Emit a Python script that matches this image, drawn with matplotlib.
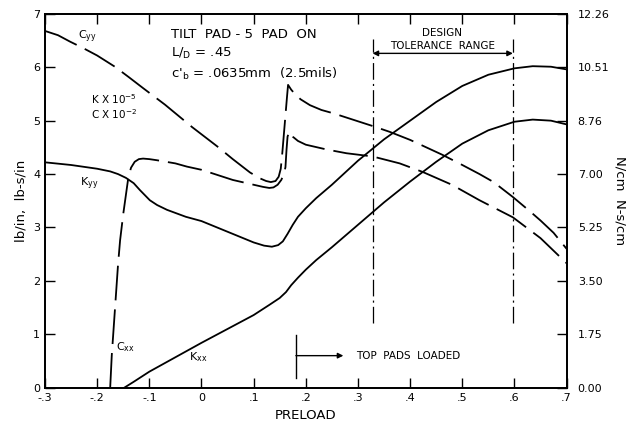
import matplotlib
matplotlib.use("Agg")
import matplotlib.pyplot as plt

plt.rcParams['font.family'] = ['DejaVu Sans']
plt.rcParams['lines.scale_dashes'] = False

# ---- data ----
cyy_x = [-0.3, -0.275, -0.252, -0.227, -0.2, -0.166, -0.14, -0.112, -0.07, -0.018, 0.03, 0.06, 0.093,
         0.112, 0.124, 0.133, 0.142, 0.148, 0.152, 0.155, 0.158, 0.161, 0.164, 0.166,
         0.172, 0.18, 0.19, 0.208, 0.23, 0.252, 0.29, 0.328, 0.361, 0.4, 0.462, 0.5, 0.533,
         0.56, 0.597, 0.63, 0.65, 0.675, 0.7]
cyy_y = [6.68, 6.60, 6.48, 6.36, 6.22, 6.01, 5.82, 5.61, 5.30, 4.88, 4.52, 4.28, 4.03,
         3.92, 3.87, 3.85, 3.87, 3.95, 4.10, 4.40, 4.75, 5.10, 5.45, 5.67,
         5.58, 5.49, 5.40, 5.29, 5.20, 5.14, 5.02, 4.90, 4.79, 4.64, 4.36, 4.17, 4.00,
         3.85, 3.57, 3.30, 3.13, 2.90, 2.60]

cxx_x = [-0.175, -0.172, -0.166, -0.16, -0.156, -0.15, -0.145, -0.14, -0.135, -0.128, -0.12, -0.112,
         -0.1, -0.086, -0.05, -0.028, 0.0, 0.06, 0.1, 0.118, 0.13, 0.138, 0.146, 0.153, 0.158,
         0.161, 0.163, 0.165, 0.168, 0.175, 0.185, 0.2, 0.24, 0.278, 0.328, 0.38, 0.424, 0.48,
         0.533, 0.597, 0.65, 0.7]
cxx_y = [0.0, 0.60, 1.45, 2.30, 2.76, 3.25, 3.60, 3.95, 4.12, 4.23, 4.28, 4.29,
         4.28, 4.26, 4.20, 4.14, 4.08, 3.89, 3.80, 3.76, 3.74, 3.75, 3.80, 3.89, 4.00,
         4.13, 4.45, 4.70, 4.79, 4.70, 4.62, 4.55, 4.46, 4.39, 4.33, 4.20, 4.04, 3.80,
         3.51, 3.19, 2.80, 2.33]

kyy_x = [-0.3, -0.25, -0.2, -0.175, -0.16, -0.145, -0.13, -0.118, -0.108, -0.099, -0.085, -0.066,
         -0.03, 0.0, 0.05, 0.1, 0.12, 0.135, 0.147, 0.156, 0.165, 0.175, 0.185, 0.2, 0.22, 0.25,
         0.3, 0.35, 0.4, 0.45, 0.5, 0.55, 0.6, 0.635, 0.67, 0.7]
kyy_y = [4.22, 4.17, 4.10, 4.05, 4.00, 3.93, 3.83, 3.70, 3.60, 3.51, 3.42, 3.33,
         3.20, 3.12, 2.92, 2.72, 2.66, 2.64, 2.67, 2.74, 2.88, 3.05, 3.20, 3.36, 3.55, 3.80,
         4.25, 4.65, 5.00, 5.35, 5.65, 5.86, 5.98, 6.02, 6.01, 5.96]

kxx_x = [-0.148, -0.13, -0.1, -0.05, 0.0, 0.05, 0.1, 0.13, 0.15, 0.162, 0.172, 0.185, 0.2, 0.22,
         0.25, 0.3, 0.35, 0.4, 0.45, 0.5, 0.55, 0.6, 0.635, 0.67, 0.7]
kxx_y = [0.0, 0.11, 0.30, 0.57, 0.84, 1.10, 1.36, 1.55, 1.68, 1.79, 1.92, 2.06, 2.21, 2.39,
         2.63, 3.05, 3.47, 3.86, 4.23, 4.57, 4.82, 4.98, 5.02, 5.00, 4.93]

x_ticks = [-0.3, -0.2, -0.1, 0.0, 0.1, 0.2, 0.3, 0.4, 0.5, 0.6, 0.7]
x_labels = ['-.3', '-.2', '-.1', '0', '.1', '.2', '.3', '.4', '.5', '.6', '.7']
y_ticks = [0, 1, 2, 3, 4, 5, 6, 7]
right_labels = ['0.00', '1.75', '3.50', '5.25', '7.00', '8.76', '10.51', '12.26']
si_factor = 1.7514
design_range = [0.328, 0.597]

fig = plt.figure(figsize=(6.3, 4.21), dpi=100)
ax = fig.add_axes([0.0714, 0.0791, 0.828, 0.888])

lw = 1.3
dash = (0, (25, 6.5))
ax.plot(cyy_x, cyy_y, color='black', lw=lw, linestyle=dash)
ax.plot(cxx_x, cxx_y, color='black', lw=lw, linestyle=dash)
ax.plot(kyy_x, kyy_y, color='black', lw=lw)
ax.plot(kxx_x, kxx_y, color='black', lw=lw)

# design tolerance lines
for xv in design_range:
    ax.plot([xv, xv], [1.21, 6.52], color='black', lw=0.9, linestyle=(0, (12, 3, 1.5, 3)))
ax.annotate('', xy=(design_range[0], 6.26), xytext=(design_range[1], 6.26),
            arrowprops=dict(arrowstyle='<|-|>', color='black', lw=1.0, mutation_scale=8,
                            shrinkA=0, shrinkB=0))
ax.text(0.462, 6.64, 'DESIGN', ha='center', va='center', fontsize=7.5)
ax.text(0.462, 6.40, 'TOLERANCE  RANGE', ha='center', va='center', fontsize=7.5)

# top pads loaded
ax.plot([0.181, 0.181], [0.18, 0.99], color='black', lw=1.0)
ax.annotate('', xy=(0.272, 0.6), xytext=(0.181, 0.6),
            arrowprops=dict(arrowstyle='-|>', color='black', lw=1.0, mutation_scale=8,
                            shrinkA=0, shrinkB=0))
ax.text(0.297, 0.6, 'TOP  PADS  LOADED', ha='left', va='center', fontsize=7.5)

# annotations
ax.text(-0.058, 6.62, 'TILT  PAD - 5  PAD  ON', ha='left', va='center', fontsize=9.5)
ax.text(-0.058, 6.26, r'L/$_\mathregular{D}$ = .45', ha='left', va='center', fontsize=9.5)
ax.text(-0.058, 5.88, r"c$'_\mathregular{b}$ = .0635mm  (2.5mils)", ha='left', va='center', fontsize=9.5)
ax.text(-0.212, 5.40, r'K X 10$^\mathregular{-5}$', ha='left', va='center', fontsize=7.5)
ax.text(-0.212, 5.12, r'C X 10$^\mathregular{-2}$', ha='left', va='center', fontsize=7.5)
ax.text(-0.236, 6.57, r'C$_\mathregular{yy}$', ha='left', va='center', fontsize=8)
ax.text(-0.232, 3.82, r'K$_\mathregular{yy}$', ha='left', va='center', fontsize=8)
ax.text(-0.163, 0.76, r'C$_\mathregular{xx}$', ha='left', va='center', fontsize=8)
ax.text(-0.024, 0.58, r'K$_\mathregular{xx}$', ha='left', va='center', fontsize=8)

ax.set_xlim(-0.3, 0.7)
ax.set_ylim(0, 7)
ax.set_xticks(x_ticks)
ax.set_xticklabels(x_labels)
ax.set_yticks(y_ticks)
ax.tick_params(axis='x', direction='in', length=7, width=1.0, top=True, labelsize=8, pad=4)
ax.tick_params(axis='y', direction='in', length=7, width=1.0, right=False, labelsize=8)
for s in ax.spines.values():
    s.set_linewidth(1.3)
ax.set_xlabel('PRELOAD', fontsize=9.5, labelpad=4)
ax.set_ylabel('lb/in,  lb-s/in', fontsize=9.5, labelpad=4)

ax2 = ax.twinx()
ax2.set_ylim(0, 7 * si_factor)
ax2.set_yticks([v * si_factor for v in y_ticks])
ax2.set_yticklabels(right_labels)
ax2.tick_params(axis='y', direction='in', length=7, width=1.0, labelsize=8, pad=8)
for s in ax2.spines.values():
    s.set_linewidth(1.3)
ax2.set_ylabel('N/cm  N-s/cm', fontsize=9.5, rotation=-90, labelpad=12)

fig.savefig('out.png', dpi=100)
